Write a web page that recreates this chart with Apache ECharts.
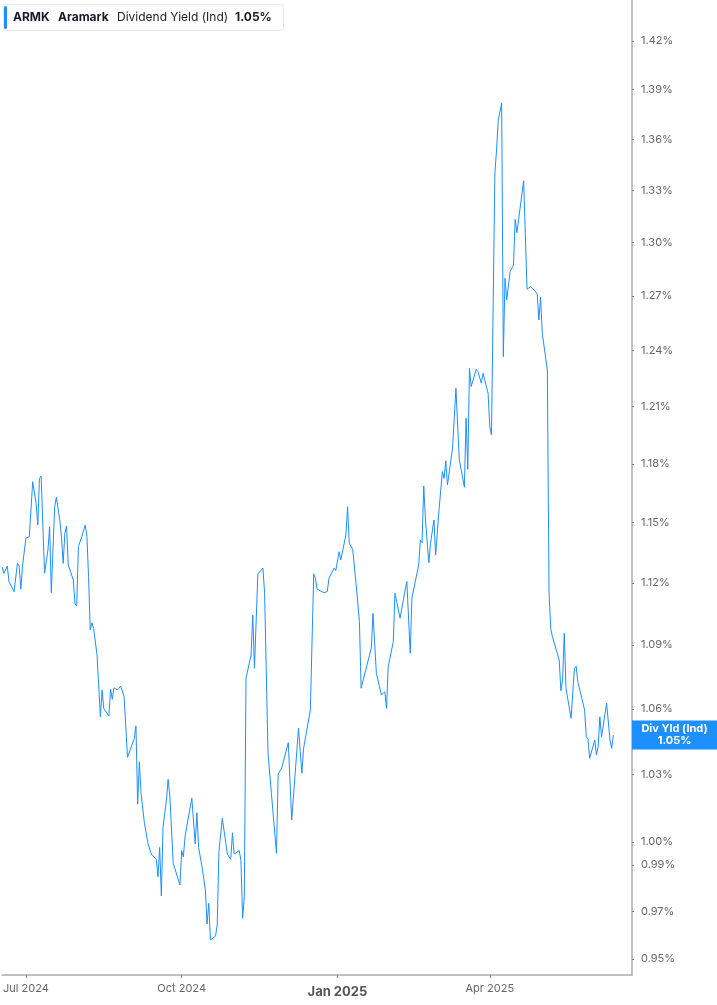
<!DOCTYPE html>
<html>
<head>
<meta charset="utf-8">
<script src="https://cdn.jsdelivr.net/npm/echarts@6/dist/echarts.min.js"></script>
<style>
html,body{margin:0;padding:0;background:#fff;}
#chart{width:717px;height:1005px;}
</style>
</head>
<body>
<div id="chart"></div>
<script>
const dates = [
'2024-06-17','2024-06-18','2024-06-20','2024-06-21','2024-06-24','2024-06-26','2024-06-27','2024-06-28','2024-06-29',
'2024-07-01','2024-07-03','2024-07-05','2024-07-07','2024-07-08','2024-07-09','2024-07-10','2024-07-12','2024-07-14',
'2024-07-15','2024-07-16','2024-07-18','2024-07-19','2024-07-21','2024-07-22','2024-07-23','2024-07-24','2024-07-25',
'2024-07-26','2024-07-29','2024-07-30','2024-07-31','2024-08-01','2024-08-03','2024-08-05','2024-08-06','2024-08-07',
'2024-08-08','2024-08-09','2024-08-10','2024-08-12','2024-08-14','2024-08-15','2024-08-16','2024-08-19','2024-08-20',
'2024-08-21','2024-08-22','2024-08-24','2024-08-26','2024-08-28','2024-08-29','2024-08-30','2024-09-03','2024-09-04',
'2024-09-05','2024-09-06','2024-09-07','2024-09-09','2024-09-11','2024-09-13','2024-09-16','2024-09-17','2024-09-18',
'2024-09-19','2024-09-20','2024-09-22','2024-09-23','2024-09-24','2024-09-25','2024-09-26','2024-09-30','2024-10-01',
'2024-10-02','2024-10-03','2024-10-04','2024-10-07','2024-10-09','2024-10-10','2024-10-11','2024-10-13','2024-10-15',
'2024-10-16','2024-10-17','2024-10-18','2024-10-21','2024-10-22','2024-10-23','2024-10-25','2024-10-28','2024-10-30',
'2024-10-31','2024-11-01','2024-11-04','2024-11-05','2024-11-06','2024-11-07','2024-11-08','2024-11-11','2024-11-12',
'2024-11-13','2024-11-15','2024-11-18','2024-11-19','2024-11-21','2024-11-23','2024-11-26','2024-11-27','2024-11-29',
'2024-12-03','2024-12-05','2024-12-06','2024-12-09','2024-12-11','2024-12-12','2024-12-16','2024-12-18','2024-12-19',
'2024-12-20','2024-12-24','2024-12-26','2024-12-27','2024-12-30','2024-12-31','2025-01-02','2025-01-03','2025-01-06',
'2025-01-07','2025-01-08','2025-01-10','2025-01-12','2025-01-14','2025-01-15','2025-01-16','2025-01-21','2025-01-22',
'2025-01-24','2025-01-27','2025-01-29','2025-01-30','2025-01-31','2025-02-03','2025-02-04','2025-02-07','2025-02-10',
'2025-02-11','2025-02-13','2025-02-14','2025-02-18','2025-02-19','2025-02-20','2025-02-21','2025-02-22','2025-02-24',
'2025-02-25','2025-02-27','2025-02-28','2025-03-02','2025-03-04','2025-03-05','2025-03-06','2025-03-07','2025-03-10',
'2025-03-12','2025-03-13','2025-03-14','2025-03-17','2025-03-18','2025-03-19','2025-03-20','2025-03-21','2025-03-24',
'2025-03-25','2025-03-27','2025-03-28','2025-03-31','2025-04-01','2025-04-02','2025-04-04','2025-04-05','2025-04-06',
'2025-04-08','2025-04-09','2025-04-10','2025-04-11','2025-04-13','2025-04-15','2025-04-16','2025-04-17','2025-04-21',
'2025-04-23','2025-04-24','2025-04-25','2025-04-28','2025-04-29','2025-04-30','2025-05-01','2025-05-02','2025-05-05',
'2025-05-06','2025-05-07','2025-05-08','2025-05-09','2025-05-12','2025-05-13','2025-05-14','2025-05-15','2025-05-16',
'2025-05-19','2025-05-20','2025-05-21','2025-05-22','2025-05-23','2025-05-27','2025-05-28','2025-05-29','2025-05-30',
'2025-06-02','2025-06-03','2025-06-04','2025-06-05','2025-06-06','2025-06-09','2025-06-10','2025-06-11','2025-06-12',
'2025-06-13'
];
const yieldValues = [
1.1278,1.1248,1.1284,1.1207,1.1158,1.1297,1.1284,1.1170,1.1284,
1.1422,1.1430,1.1708,1.1598,1.1488,1.1725,1.1737,1.1248,1.1363,
1.1480,1.1153,1.1581,1.1629,1.1514,1.1430,1.1297,1.1447,1.1483,
1.1289,1.1215,1.1098,1.1088,1.1380,1.1430,1.1488,1.1438,1.1231,
1.0972,1.1007,1.0980,1.0853,1.0563,1.0688,1.0602,1.0567,1.0691,
1.0644,1.0698,1.0688,1.0706,1.0656,1.0517,1.0377,1.0464,1.0521,
1.0167,1.0357,1.0215,1.0082,0.9996,0.9947,0.9924,0.9849,0.9976,
0.9766,1.0067,1.0185,1.0278,1.0203,1.0195,0.9907,0.9813,0.9962,
0.9935,1.0023,1.0067,1.0193,0.9991,1.0129,0.9976,0.9892,0.9792,
0.9647,0.9735,0.9580,0.9596,0.9643,0.9957,1.0104,0.9947,0.9924,
1.0040,0.9947,0.9962,0.9918,0.9671,0.9763,1.0743,1.0853,1.1044,
1.0790,1.1245,1.1273,1.1150,1.0396,1.0215,0.9950,1.0302,1.0327,
1.0444,1.0096,1.0096,1.0510,1.0305,1.0418,1.0594,1.1245,1.1223,
1.1170,1.1153,1.1158,1.1223,1.1273,1.1261,1.1355,1.1314,1.1438,
1.1581,1.1397,1.1367,1.1199,1.1012,1.0696,1.0688,1.0885,1.1053,
1.0766,1.0664,1.0680,1.0602,1.0797,1.0916,1.1150,1.1029,1.1166,
1.1207,1.0861,1.1126,1.1289,1.1413,1.1400,1.1686,1.1514,1.1300,
1.1397,1.1514,1.1338,1.1564,1.1760,1.1725,1.1816,1.1691,1.1881,
1.2197,1.2197,1.1820,1.1680,1.2038,1.1772,1.2304,1.2206,1.2299,
1.2286,1.2224,1.2277,1.2170,1.1994,1.1950,1.3401,1.3538,1.3717,
1.3818,1.2367,1.2799,1.2678,1.2836,1.2873,1.3134,1.3057,1.3357,
1.2737,1.2730,1.2752,1.2724,1.2711,1.2567,1.2693,1.2494,1.2295,
1.1150,1.0980,1.0940,1.0948,1.0829,1.0684,1.0735,1.0956,1.0696,
1.0556,1.0556,1.0790,1.0800,1.0727,1.0594,1.0471,1.0459,1.0373,
1.0456,1.0388,1.0426,1.0563,1.0471,1.0626,1.0621,1.0456,1.0418,
1.0479
];
const yTicks = [0.95,0.97,0.99,1.00,1.03,1.06,1.09,1.12,1.15,1.18,1.21,1.24,1.27,1.30,1.33,1.36,1.39,1.42];
const xTickDates = ['2024-07-01','2024-10-01','2025-01-01','2025-04-01'];
const xTickLabels = ['Jul 2024','Oct 2024','Jan 2025','Apr 2025'];
const ticker = 'ARMK';
const company = 'Aramark';
const metric = 'Dividend Yield (Ind)';
const lastLabel = '1.05%';

function ts(s){const p=s.split('-').map(Number);return Date.UTC(p[0],p[1]-1,p[2]);}
const xTickTs = xTickDates.map(ts);
const seriesData = dates.map((d,i)=>[ts(d), yieldValues[i]]);

const FONT = 'Inter, "Noto Sans", sans-serif';
const BLUE = '#1e8fff';

const chart = echarts.init(document.getElementById('chart'), null, {renderer:'canvas'});
const option = {
  animation:false,
  backgroundColor:'#fff',
  grid:{left:0,right:85,top:0,bottom:30,containLabel:false},
  xAxis:{
    type:'value',
    min: ts('2024-06-17'),
    max: ts('2025-06-24'),
    axisLine:{show:true,lineStyle:{color:'#aaaaaa',width:1.5}},
    axisTick:{show:true,length:3,lineStyle:{color:'#888',width:1},customValues:xTickTs},
    splitLine:{show:false},
    axisLabel:{
      customValues:xTickTs,
      margin:8,
      fontFamily:FONT,fontSize:11,color:'#666',
      formatter:function(v){
        const i = xTickTs.indexOf(v);
        const t = i>=0 ? xTickLabels[i] : '';
        return i===2 ? '{b|'+t+'}' : t;
      },
      rich:{b:{fontFamily:FONT,fontSize:13,fontWeight:'bold',color:'#555',padding:[3,0,0,0]}}
    }
  },
  yAxis:{
    type:'log',
    logBase:Math.E,
    position:'right',
    min:0.9434,
    max:1.4457,
    axisLine:{show:true,lineStyle:{color:'#aaaaaa',width:1.5}},
    axisTick:{show:true,length:2,lineStyle:{color:'#777'},customValues:yTicks},
    splitLine:{show:false},
    axisLabel:{
      customValues:yTicks,
      margin:9,
      fontFamily:FONT,fontSize:11,color:'#666',
      formatter:function(v){return v.toFixed(2)+'%';}
    }
  },
  series:[{
    type:'line',
    data:seriesData,
    showSymbol:false,
    symbol:'none',
    lineStyle:{color:BLUE,width:1},
    z:3
  }]
};
chart.setOption(option);

const lastPt = seriesData[seriesData.length-1];
const ly = chart.convertToPixel({yAxisIndex:0}, lastPt[1]);
const gx = chart.convertToPixel({xAxisIndex:0}, ts('2025-06-24'));

chart.setOption({
  graphic:[
    {type:'rect',shape:{x:3.5,y:4.5,width:280,height:26,r:3},style:{fill:'#fff',stroke:'#e8e8e8',lineWidth:1},z:10},
    {type:'rect',shape:{x:4,y:6,width:3,height:23,r:1.5},style:{fill:BLUE},z:11},
    {type:'text',x:13,y:17.5,style:{text:ticker,fontFamily:FONT,fontSize:12,fontWeight:'bold',fill:'#1a1a2e',textVerticalAlign:'middle'},z:11},
    {type:'text',x:58,y:17.5,style:{text:company,fontFamily:FONT,fontSize:12,fontWeight:'bold',fill:'#1a1a2e',textVerticalAlign:'middle'},z:11},
    {type:'text',x:117,y:17.5,style:{text:metric,fontFamily:FONT,fontSize:12,fontWeight:'normal',fill:'#1a1a2e',textVerticalAlign:'middle'},z:11},
    {type:'text',x:235,y:17.5,style:{text:lastLabel,fontFamily:FONT,fontSize:12,fontWeight:'bold',fill:'#1a1a2e',textVerticalAlign:'middle'},z:11},
    {type:'rect',shape:{x:gx,y:ly-14.5,width:717-gx,height:29},style:{fill:BLUE},z:10},
    {type:'text',x:gx+(717-gx)/2,y:ly-6,style:{text:'Div Yld (Ind)',fontFamily:FONT,fontSize:11,fontWeight:'bold',fill:'#fff',textAlign:'center',textVerticalAlign:'middle'},z:11},
    {type:'text',x:gx+(717-gx)/2,y:ly+6,style:{text:lastLabel,fontFamily:FONT,fontSize:11,fontWeight:'bold',fill:'#fff',textAlign:'center',textVerticalAlign:'middle'},z:11}
  ]
});
</script>
</body>
</html>
